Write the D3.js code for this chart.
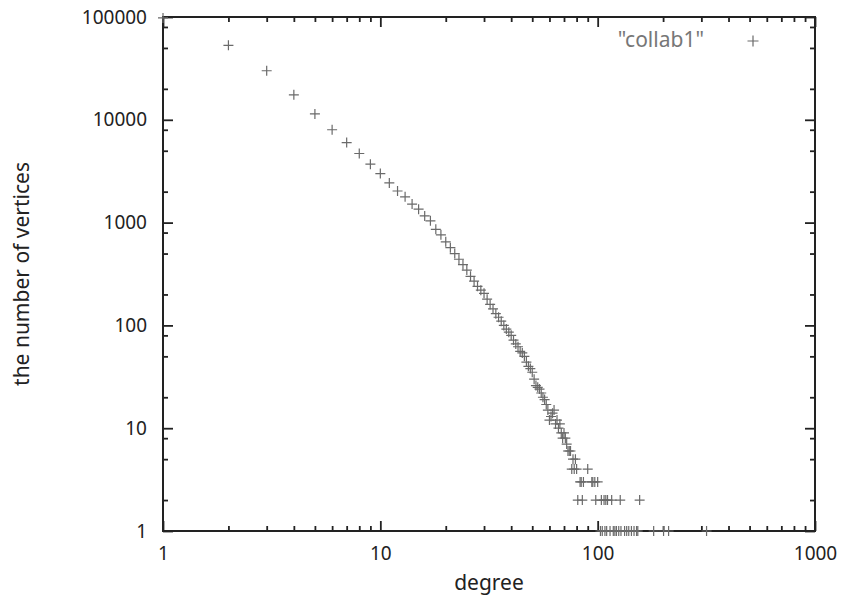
<!DOCTYPE html>
<html>
<head>
<meta charset="utf-8">
<script src="https://cdn.jsdelivr.net/npm/d3@7"></script>
<style>
  body { margin: 0; background: #fff; }
  text { font-family: "Noto Sans", sans-serif; }
</style>
</head>
<body>
<svg id="chart" width="845" height="603"></svg>
<script>
// degree distribution "collab1"
const degrees = [
  1, 2, 3, 4, 5, 6, 7, 8, 9, 10,
  11, 12, 13, 14, 15, 16, 17, 18, 19, 20,
  21, 22, 23, 24, 25, 26, 27, 28, 29, 30,
  31, 32, 33, 34, 35, 36, 37, 38, 39, 40,
  41, 42, 43, 44, 45, 46, 47, 48, 49, 50,
  51, 52, 53, 54, 55, 56, 57, 58, 59, 60,
  61, 62, 63, 64, 65, 66, 67, 68, 69, 70,
  71, 72, 73, 74, 75, 76, 77, 78, 79, 80,
  81, 83, 84, 85, 86, 90, 94, 95, 97, 98, 100,
  103, 104, 105, 107, 108, 109, 110, 111, 114, 116, 118, 120, 122, 125,
  127, 128, 133, 136, 139, 143, 147, 151, 153, 156, 181, 201, 212, 317
];
const vertexCounts = [
  98000, 53000, 30000, 17500, 11400, 8000, 6000, 4700, 3700, 3000,
  2430, 2030, 1780, 1515, 1350, 1160, 1040, 860, 760, 650,
  570, 500, 440, 390, 345, 300, 270, 240, 220, 205,
  180, 160, 145, 130, 120, 110, 100, 92, 86, 80,
  72, 66, 62, 56, 54, 50, 44, 40, 38, 35,
  30, 26, 25, 24, 22, 20, 19, 17, 15, 12,
  13, 14, 15, 11, 12, 10, 11, 9, 8, 9,
  8, 7, 6, 6, 6, 4, 5, 4, 5, 4,
  2, 3, 3, 2, 3, 4, 3, 3, 3, 2, 3,
  1, 2, 1, 2, 1, 2, 1, 2, 1, 2, 1, 1, 1, 1,
  2, 1, 1, 1, 1, 1, 1, 1, 1, 2, 1, 1, 1, 1
];

const xMajor = [1, 10, 100, 1000];
const yMajor = [1, 10, 100, 1000, 10000, 100000];
const seriesName = '"collab1"';

const svg = d3.select('#chart');
const plotLeft = 163, plotRight = 815, plotTop = 17, plotBottom = 531;

const x = d3.scaleLog().domain([1, 1000]).range([plotLeft, plotRight]);
const y = d3.scaleLog().domain([1, 100000]).range([plotBottom, plotTop]);

// minor ticks: x every 2..9, y at 2, 5, 8 of each decade
const xMinor = [];
[1, 10, 100].forEach(d => { for (let m = 2; m <= 9; m++) xMinor.push(d * m); });
const yMinor = [];
[1, 10, 100, 1000, 10000].forEach(d => { [2, 5, 8].forEach(m => yMinor.push(d * m)); });

function addAxis(axis, tx, ty) {
  const g = svg.append('g')
    .attr('transform', `translate(${tx},${ty})`)
    .call(axis);
  g.select('.domain').remove();
  g.selectAll('.tick line').attr('stroke', '#222').attr('stroke-width', 1.8);
  return g;
}

// major ticks (inside, mirrored)
const bottomAxis = addAxis(d3.axisBottom(x).tickValues(xMajor).tickSize(-10).tickPadding(16)
  .tickFormat(d3.format('d')), 0, plotBottom);
addAxis(d3.axisTop(x).tickValues(xMajor).tickSize(-10).tickFormat(''), 0, plotTop);
const leftAxis = addAxis(d3.axisLeft(y).tickValues(yMajor).tickSize(-10).tickPadding(16)
  .tickFormat(d3.format('d')), plotLeft, 0);
addAxis(d3.axisRight(y).tickValues(yMajor).tickSize(-10).tickFormat(''), plotRight, 0);

// minor ticks
addAxis(d3.axisBottom(x).tickValues(xMinor).tickSize(-5).tickFormat(''), 0, plotBottom);
addAxis(d3.axisTop(x).tickValues(xMinor).tickSize(-5).tickFormat(''), 0, plotTop);
addAxis(d3.axisLeft(y).tickValues(yMinor).tickSize(-5).tickFormat(''), plotLeft, 0);
addAxis(d3.axisRight(y).tickValues(yMinor).tickSize(-5).tickFormat(''), plotRight, 0);

[bottomAxis, leftAxis].forEach(g => g.selectAll('.tick text')
  .attr('fill', '#222').style('font-size', '19px').style('font-family', '"Noto Sans", sans-serif'));

// frame
svg.append('rect')
  .attr('x', plotLeft).attr('y', plotTop)
  .attr('width', plotRight - plotLeft).attr('height', plotBottom - plotTop)
  .attr('fill', 'none').attr('stroke', '#222').attr('stroke-width', 2);

// axis titles
svg.append('text')
  .attr('x', (plotLeft + plotRight) / 2).attr('y', 590)
  .attr('text-anchor', 'middle')
  .attr('fill', '#222').style('font-size', '21px')
  .text('degree');

svg.append('text')
  .attr('transform', `translate(29,${(plotTop + plotBottom) / 2}) rotate(-90)`)
  .attr('text-anchor', 'middle')
  .attr('fill', '#222').style('font-size', '21px')
  .text('the number of vertices');

// points
const plus = 'M-5,0H5M0,-5V5';
const pts = degrees.map((d, i) => ({ k: d, n: vertexCounts[i] }));

svg.append('g')
  .selectAll('path')
  .data(pts)
  .enter()
  .append('path')
  .attr('transform', d => `translate(${x(d.k)},${y(d.n)})`)
  .attr('d', plus)
  .attr('fill', 'none')
  .attr('stroke', '#6a6a6a')
  .attr('stroke-width', 1.2);

// legend
svg.append('text')
  .attr('x', 704).attr('y', 40)
  .attr('dy', '.35em')
  .attr('text-anchor', 'end')
  .attr('fill', '#777').style('font-size', '21px')
  .text(seriesName);

svg.append('path')
  .attr('transform', 'translate(753,41)')
  .attr('d', 'M-5.5,0H5.5M0,-5.5V5.5')
  .attr('fill', 'none')
  .attr('stroke', '#6a6a6a')
  .attr('stroke-width', 1.2);
</script>
</body>
</html>
